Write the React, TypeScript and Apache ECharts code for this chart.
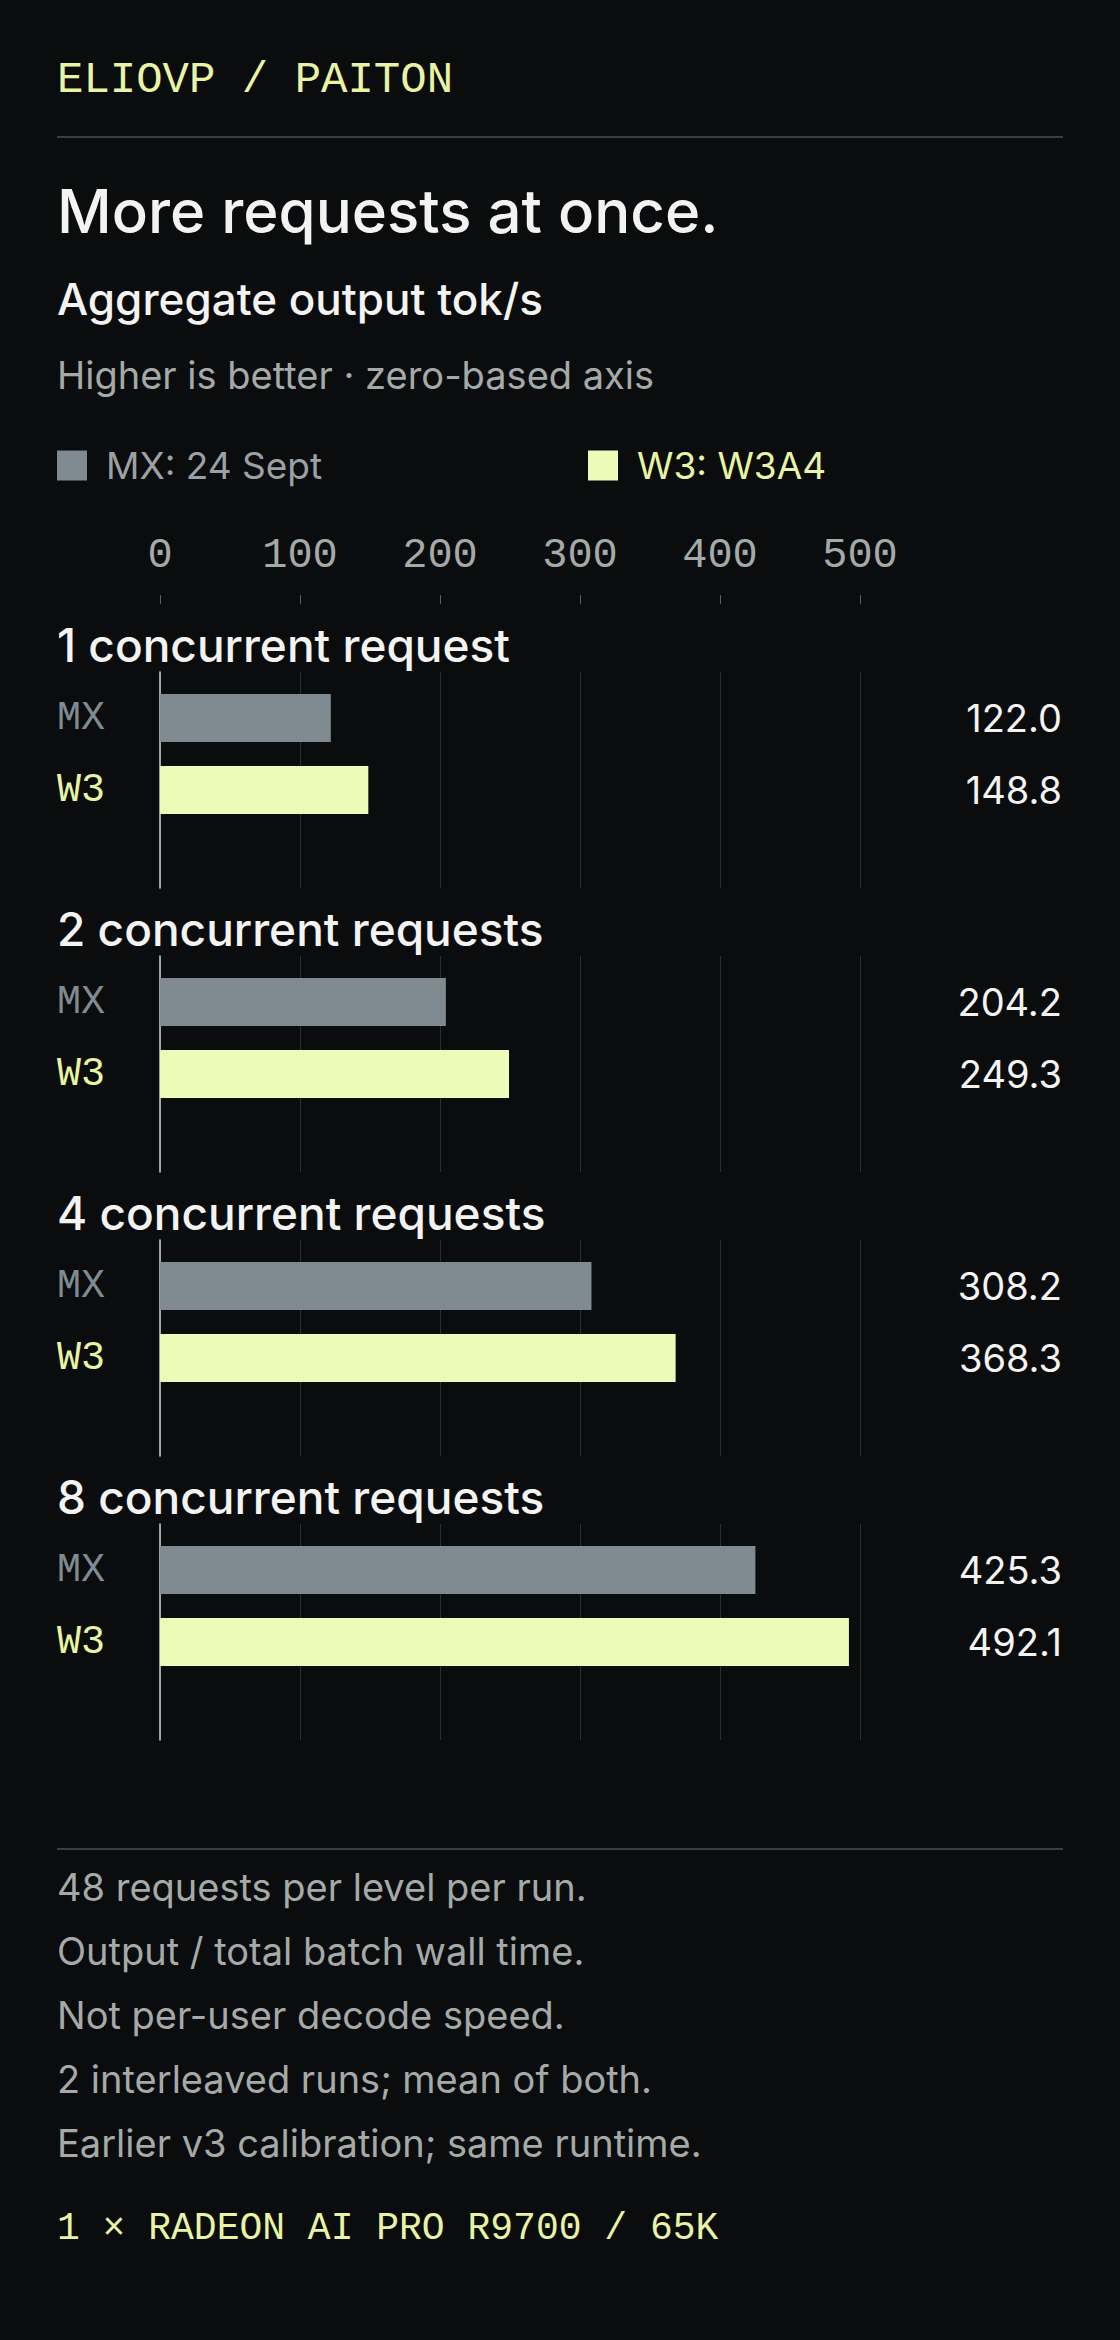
import { useEffect, useRef } from 'react'
import * as echarts from 'echarts'

const groupTitles = ['1 concurrent request', '2 concurrent requests', '4 concurrent requests', '8 concurrent requests']
const mxValues = [122.0, 204.2, 308.2, 425.3]
const w3Values = [148.8, 249.3, 368.3, 492.1]
const rowLabels = ['MX', 'W3']
const seriesNames = ['MX: 24 Sept', 'W3: W3A4']
const axisMin = 0
const axisMax = 500
const axisStep = 100
const notes = [
  '48 requests per level per run.',
  'Output / total batch wall time.',
  'Not per-user decode speed.',
  '2 interleaved runs; mean of both.',
  'Earlier v3 calibration; same runtime.',
]

const BG = '#0b0c0e'
const WHITE = '#f3f4f1'
const GREY = '#a4aaa8'
const MX_COLOR = '#7f8b90'
const W3_COLOR = '#edfab8'
const YELLOW = '#e8f4a4'
const SANS = 'Inter, "Noto Sans", sans-serif'
const MONO = '"Liberation Mono", "DejaVu Sans Mono", monospace'

const LEFT = 160
const WIDTH = 700
const STEP = 284

export default function App() {
  const main = useRef<HTMLDivElement>(null)
  useEffect(() => {
    document.body.style.margin = '0'
    document.body.style.background = BG
    const chart = echarts.init(main.current, null, { renderer: 'svg' })

    const grid: any[] = [{ left: LEFT, width: WIDTH, top: 603, height: 1 }]
    const xAxis: any[] = [
      {
        gridIndex: 0,
        type: 'value',
        position: 'top',
        min: axisMin,
        max: axisMax,
        interval: axisStep,
        axisLine: { show: false },
        axisTick: { show: true, length: 9, lineStyle: { color: '#5a5f62' } },
        axisLabel: { margin: 47, verticalAlign: 'middle', color: GREY, fontFamily: MONO, fontSize: 42 },
        splitLine: { show: false },
      },
    ]
    const yAxis: any[] = [{ gridIndex: 0, type: 'value', show: false }]
    const series: any[] = []

    groupTitles.forEach((_, g) => {
      const off = g * STEP
      // grid lines
      const li = grid.length
      grid.push({ left: LEFT, width: WIDTH, top: 672 + off, height: 216 })
      xAxis.push({
        gridIndex: li,
        type: 'value',
        min: axisMin,
        max: axisMax,
        interval: axisStep,
        axisLine: { show: false },
        axisTick: { show: false },
        axisLabel: { show: false },
        splitLine: { show: true, lineStyle: { color: '#2b2e31', width: 1 } },
      })
      yAxis.push({
        gridIndex: li,
        type: 'value',
        min: 0,
        max: 1,
        axisLine: { show: true, lineStyle: { color: '#cfd2cf', width: 1.5 } },
        axisTick: { show: false },
        axisLabel: { show: false },
        splitLine: { show: false },
      })
      // bars
      const bi = grid.length
      grid.push({ left: LEFT, width: WIDTH, top: 682 + off, height: 144 })
      const xi = xAxis.length
      xAxis.push({ gridIndex: bi, type: 'value', min: axisMin, max: axisMax, show: false })
      const yi = yAxis.length
      yAxis.push({
        gridIndex: bi,
        type: 'category',
        data: rowLabels,
        inverse: true,
        axisLine: { show: false },
        axisTick: { show: false },
        axisLabel: {
          margin: 103,
          align: 'left',
          fontFamily: MONO,
          fontSize: 40,
          color: (v: string) => (v === 'MX' ? MX_COLOR : YELLOW),
        },
      })
      yAxis.push({
        gridIndex: bi,
        type: 'category',
        position: 'right',
        data: rowLabels,
        inverse: true,
        axisLine: { show: false },
        axisTick: { show: false },
        axisLabel: {
          margin: 202,
          align: 'right',
          fontFamily: SANS,
          fontSize: 38,
          color: WHITE,
          formatter: (_v: string, i: number) => (i === 0 ? mxValues[g] : w3Values[g]).toFixed(1),
        },
      })
      series.push(
        {
          type: 'bar',
          name: seriesNames[0],
          xAxisIndex: xi,
          yAxisIndex: yi,
          data: [mxValues[g], null],
          barWidth: 48,
          barGap: '-100%',
          itemStyle: { color: MX_COLOR },
        },
        {
          type: 'bar',
          name: seriesNames[1],
          xAxisIndex: xi,
          yAxisIndex: yi,
          data: [null, w3Values[g]],
          barWidth: 48,
          barGap: '-100%',
          itemStyle: { color: W3_COLOR },
        },
      )
    })

    const text = (t: string, x: number, y: number, size: number, color: string, font = SANS, weight: any = 400) => ({
      type: 'text',
      x,
      y,
      style: { text: t, fill: color, fontSize: size, fontFamily: font, fontWeight: weight, verticalAlign: 'middle', align: 'left' },
    })
    const rule = (y: number) => ({
      type: 'line',
      shape: { x1: 57, y1: y, x2: 1063, y2: y },
      style: { stroke: '#3a3d40', lineWidth: 2 },
    })

    const graphic: any[] = [
      text('ELIOVP / PAITON', 57, 80, 44, YELLOW, MONO),
      rule(137),
      text('More requests at once.', 57, 211, 60, WHITE, SANS, 500),
      text('Aggregate output tok/s', 57, 299, 44, WHITE, SANS, 500),
      text('Higher is better · zero-based axis', 57, 375, 38, GREY),
      ...groupTitles.map((t, g) => text(t, 57, 645 + g * STEP, 46, WHITE, SANS, 500)),
      rule(1849),
      ...notes.map((t, i) => text(t, 57, 1887 + i * 64, 38, GREY)),
      text('1 × RADEON AI PRO R9700 / 65K', 57, 2228, 38, YELLOW, MONO),
    ]

    const legendBase = {
      top: 447,
      padding: 0,
      icon: 'rect',
      itemWidth: 30,
      itemHeight: 30,
      selectedMode: false,
    }

    chart.setOption({
      animation: false,
      backgroundColor: BG,
      legend: [
        {
          ...legendBase,
          left: 57,
          data: [seriesNames[0]],
          textStyle: { color: '#9aa1a4', fontSize: 37, fontFamily: SANS, padding: [0, 0, 0, 14] },
        },
        {
          ...legendBase,
          left: 588,
          data: [seriesNames[1]],
          textStyle: { color: YELLOW, fontSize: 37, fontFamily: SANS, padding: [0, 0, 0, 14] },
        },
      ],
      grid,
      xAxis,
      yAxis,
      series,
      graphic,
    })
    return () => {
      chart.dispose()
    }
  }, [])
  return <div ref={main} style={{ width: 1120, height: 2340 }}></div>
}
